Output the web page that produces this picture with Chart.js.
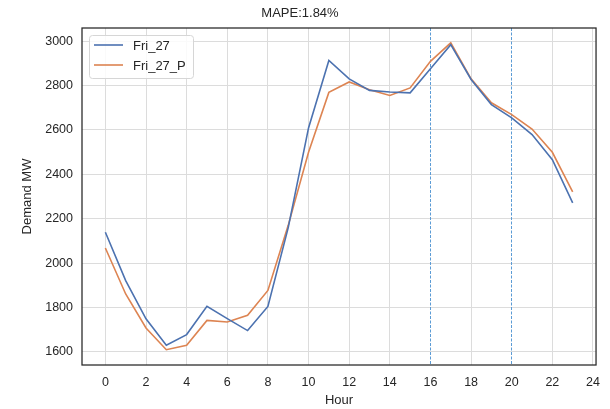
<!DOCTYPE html>
<html>
<head>
<meta charset="utf-8">
<script src="https://cdn.jsdelivr.net/npm/chart.js@4/dist/chart.umd.min.js"></script>
<style>
  html, body { margin: 0; padding: 0; background: #fff; }
  #wrap { width: 610px; height: 409px; }
</style>
</head>
<body>
<div id="wrap"><canvas id="myChart" width="610" height="409"></canvas></div>
<script>
// data
const hours = [0,1,2,3,4,5,6,7,8,9,10,11,12,13,14,15,16,17,18,19,20,21,22,23];
const actual = [2139,1921,1749,1630,1678,1805,1750,1696,1805,2160,2609,2913,2830,2778,2771,2767,2875,2984,2827,2714,2654,2579,2466,2271];
const predicted = [2068,1861,1708,1610,1630,1742,1735,1765,1877,2170,2499,2769,2816,2781,2755,2789,2909,2992,2830,2722,2669,2604,2499,2321];
const xTicks = [0,2,4,6,8,10,12,14,16,18,20,22,24];
const yTicks = [1600,1800,2000,2200,2400,2600,2800,3000];
const markers = [16, 20];
const seriesNames = ['Fri_27', 'Fri_27_P'];
const titleText = 'MAPE:1.84%';

const FONT = "'Liberation Sans', Arial, sans-serif";
const BLUE = '#4C72B0';
const ORANGE = '#DD8452';
const GRID = '#dcdcdc';

function toPoints(vals){
    let pts = [];
    for(let i = 0;i < hours.length;i++){
        pts.push({x: hours[i], y: vals[i]});
    }
    return pts;
}

// dashed vertical markers + frame + legend box
const extras = {
    id: 'extras',
    beforeDatasetsDraw(chart){
        const ctx = chart.ctx;
        const a = chart.chartArea;
        const xs = chart.scales.x;
        ctx.save();
        ctx.strokeStyle = '#5b9bd5';
        ctx.lineWidth = 1;
        ctx.setLineDash([3, 1.5]);
        markers.forEach(m => {
            const px = Math.round(xs.getPixelForValue(m) - 0.5) + 0.5;
            ctx.beginPath();
            ctx.moveTo(px, a.top);
            ctx.lineTo(px, a.bottom);
            ctx.stroke();
        });
        ctx.restore();
    },
    afterDraw(chart){
        const ctx = chart.ctx;
        const a = chart.chartArea;
        ctx.save();
        ctx.strokeStyle = '#262626';
        ctx.lineWidth = 1.25;
        ctx.strokeRect(a.left, a.top, a.right - a.left, a.bottom - a.top);

        // legend
        const bx = 89, by = 35, bw = 104, bh = 43;
        ctx.fillStyle = 'rgba(255,255,255,0.85)';
        ctx.strokeStyle = '#d6d6d6';
        ctx.lineWidth = 1;
        ctx.beginPath();
        ctx.roundRect(bx + 0.5, by + 0.5, bw, bh, 3);
        ctx.fill();
        ctx.stroke();
        const ds = chart.data.datasets;
        ctx.font = '13px ' + FONT;
        ctx.textBaseline = 'middle';
        ctx.textAlign = 'left';
        for(let i = 0;i < ds.length;i++){
            const ly = by + 10 + i * 20;
            ctx.strokeStyle = ds[i].borderColor;
            ctx.lineWidth = 1.6;
            ctx.beginPath();
            ctx.moveTo(bx + 5, ly);
            ctx.lineTo(bx + 34, ly);
            ctx.stroke();
            ctx.fillStyle = '#262626';
            ctx.fillText(ds[i].label, bx + 44, ly + 1);
        }
        ctx.restore();
    }
};

const ctx = document.getElementById('myChart').getContext('2d');
const myChart = new Chart(ctx, {
    type: 'line',
    data: {
        datasets: [{
            label: seriesNames[0],
            data: toPoints(actual),
            borderColor: BLUE,
            borderWidth: 1.6,
            pointRadius: 0,
            tension: 0
        }, {
            label: seriesNames[1],
            data: toPoints(predicted),
            borderColor: ORANGE,
            borderWidth: 1.6,
            pointRadius: 0,
            tension: 0
        }]
    },
    options: {
        responsive: false,
        animation: false,
        layout: { padding: { left: 0, right: 10, top: 0, bottom: 0 } },
        plugins: {
            legend: { display: false },
            tooltip: { enabled: false },
            title: {
                display: true,
                text: titleText,
                color: '#262626',
                font: { family: FONT, size: 13, weight: 'normal', lineHeight: 1.2 },
                padding: { top: 6, bottom: 6.4 }
            }
        },
        scales: {
            x: {
                type: 'linear',
                min: -1.15,
                max: 24.15,
                afterBuildTicks: scale => { scale.ticks = xTicks.map(v => ({value: v})); },
                afterFit: scale => { scale.height = 44; },
                grid: {
                    // no grey gridline under the dashed markers
                    color: c => (c.tick && markers.includes(c.tick.value)) ? 'rgba(0,0,0,0)' : GRID,
                    lineWidth: 1, drawTicks: false
                },
                border: { display: false },
                ticks: { color: '#262626', padding: 10, maxRotation: 0, autoSkip: false,
                         font: { family: FONT, size: 12.5 },
                         callback: v => String(v) },
                title: { display: true, text: 'Hour', color: '#262626',
                         font: { family: FONT, size: 13 }, padding: { top: 0, bottom: 1 } }
            },
            y: {
                type: 'linear',
                min: 1541,
                max: 3059,
                afterBuildTicks: scale => { scale.ticks = yTicks.map(v => ({value: v})); },
                afterFit: scale => { scale.width = 82; },
                grid: { color: GRID, lineWidth: 1, drawTicks: false },
                border: { display: false },
                ticks: { color: '#262626', padding: 9, autoSkip: false,
                         font: { family: FONT, size: 12.5 },
                         callback: v => String(v) },
                title: { display: true, text: 'Demand MW', color: '#262626',
                         font: { family: FONT, size: 13 }, padding: { top: 20, bottom: 0 } }
            }
        }
    },
    plugins: [extras]
});
</script>
</body>
</html>
